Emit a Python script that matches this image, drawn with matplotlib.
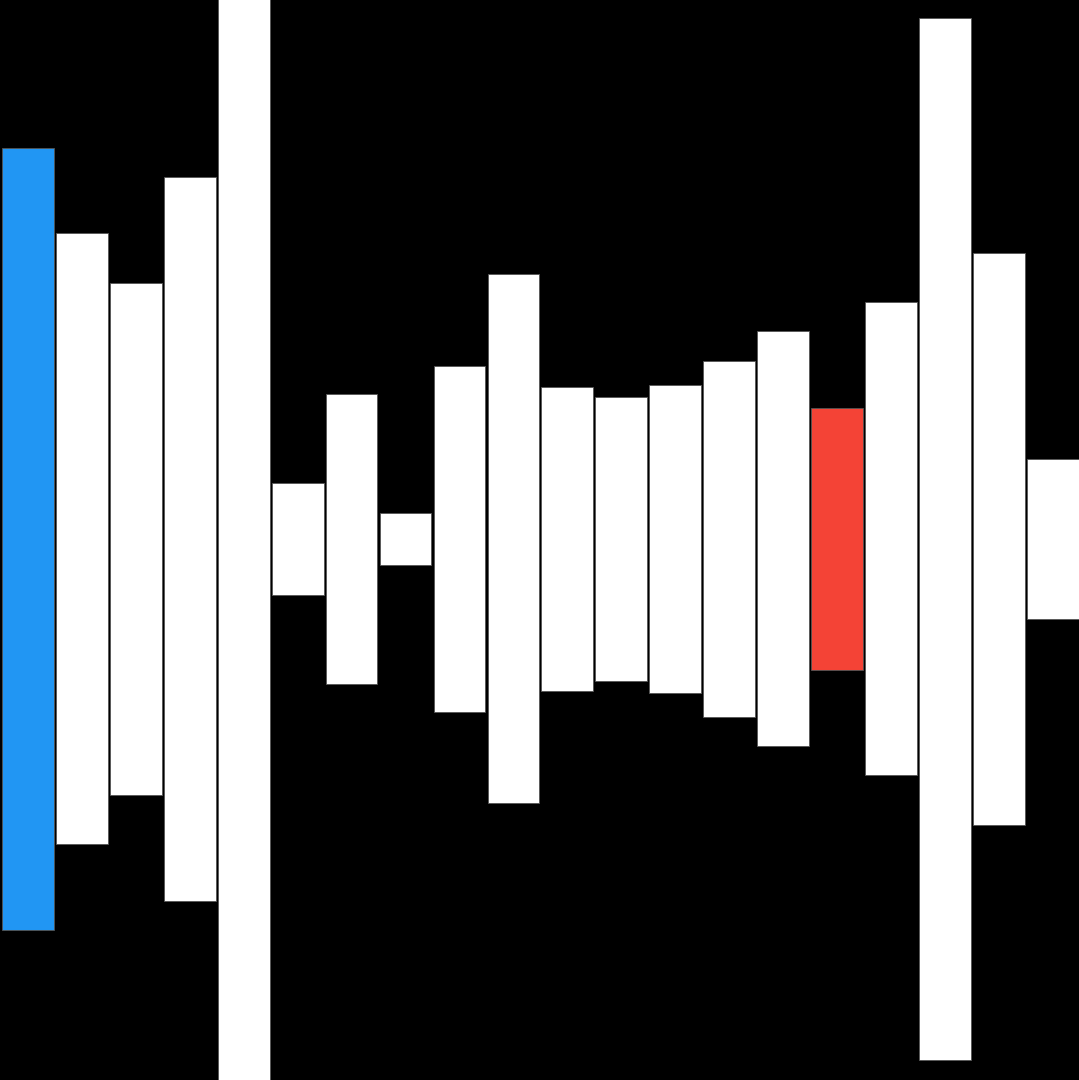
import numpy as np
import matplotlib.pyplot as plt

# bar heights (centred around zero)
heights = [782, 611, 512, 724, 1200, 112, 290, 52, 346, 529,
           304, 284, 308, 356, 415, 262, 473, 1042, 572, 160]
colors = ['#2196f3'] + ['white'] * 14 + ['#f44336'] + ['white'] * 4

heights = np.array(heights, dtype=float)
x = np.arange(len(heights))

fig = plt.figure(figsize=(10.79, 10.80), dpi=100, facecolor='black')
ax = fig.add_axes([0, 0, 1, 1])
ax.set_facecolor('black')

ax.bar(x, heights, bottom=-heights / 2, width=0.96, color=colors,
       edgecolor='#555555', linewidth=0.6)

ax.set_xlim(-0.517, 19.483)
ax.set_ylim(-541, 539)
ax.axis('off')

fig.savefig('out.png', dpi=100, facecolor='black')
